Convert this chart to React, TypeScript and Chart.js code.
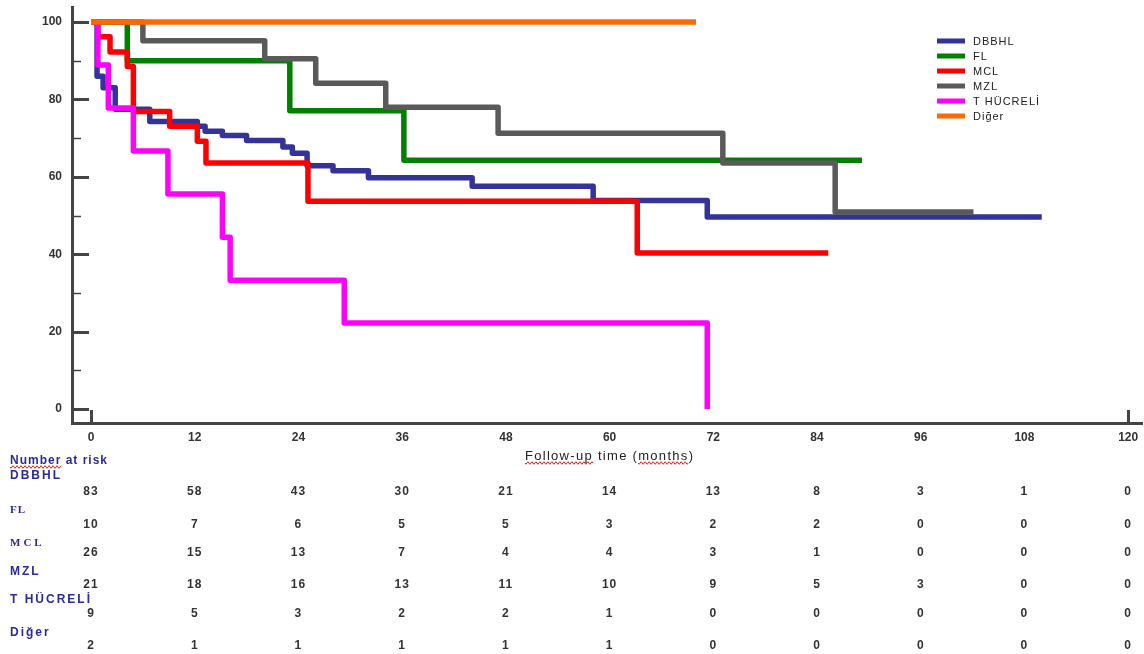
import React, { useEffect, useRef } from 'react';
import { Chart, registerables } from 'chart.js';

Chart.register(...registerables);

// ---------- data ----------
const seriesNames = ['DBBHL', 'FL', 'MCL', 'MZL', 'T HÜCRELİ', 'Diğer'];
const seriesColors = ['#333399', '#008000', '#ff0000', '#5a5a5a', '#ff00ff', '#ff6a00'];

const dbbhlTimes = [0, 0.7, 1.4, 2.8, 6.8, 12.3, 13.2, 15.2, 18.0, 22.2, 23.3, 25.0, 28.0, 32.1, 44.1, 58.1, 71.3, 110];
const dbbhlSurv = [100, 86.0, 83.0, 77.5, 74.3, 73.1, 71.8, 70.7, 69.4, 67.7, 66.1, 62.9, 61.6, 59.8, 57.6, 53.9, 49.6, 49.6];

const flTimes = [0, 4.2, 23.0, 36.2, 89.2];
const flSurv = [100, 90.0, 77.1, 64.3, 64.3];

const mclTimes = [0, 0.8, 2.2, 4.2, 4.9, 9.1, 12.3, 13.3, 25.1, 63.2, 85.3];
const mclSurv = [100, 96.2, 92.3, 88.5, 76.9, 73.1, 69.2, 63.6, 53.7, 40.3, 40.3];

const mzlTimes = [0, 6.0, 20.1, 26.0, 34.1, 47.1, 73.1, 86.1, 102.1];
const mzlSurv = [100, 95.2, 90.5, 84.2, 78.0, 71.3, 63.6, 50.9, 50.9];

const tTimes = [0, 0.8, 2.0, 4.9, 8.9, 15.2, 16.1, 29.3, 71.3];
const tSurv = [100, 88.9, 77.8, 66.7, 55.6, 44.4, 33.3, 22.2, 0];

const digerTimes = [0, 70];
const digerSurv = [100, 100];

const xTickValues = [0, 12, 24, 36, 48, 60, 72, 84, 96, 108, 120];
const yTickValues = [0, 20, 40, 60, 80, 100];

const riskTimes = [0, 12, 24, 36, 48, 60, 72, 84, 96, 108, 120];
const dbbhlRisk = [83, 58, 43, 30, 21, 14, 13, 8, 3, 1, 0];
const flRisk = [10, 7, 6, 5, 5, 3, 2, 2, 0, 0, 0];
const mclRisk = [26, 15, 13, 7, 4, 4, 3, 1, 0, 0, 0];
const mzlRisk = [21, 18, 16, 13, 11, 10, 9, 5, 3, 0, 0];
const tRisk = [9, 5, 3, 2, 2, 1, 0, 0, 0, 0, 0];
const digerRisk = [2, 1, 1, 1, 1, 1, 0, 0, 0, 0, 0];

const riskTitle = 'Number at risk';
const xAxisTitle = 'Follow-up time (months)';

const seriesTimes = [dbbhlTimes, flTimes, mclTimes, mzlTimes, tTimes, digerTimes];
const seriesSurv = [dbbhlSurv, flSurv, mclSurv, mzlSurv, tSurv, digerSurv];
const seriesRisk = [dbbhlRisk, flRisk, mclRisk, mzlRisk, tRisk, digerRisk];
// drawing order: lower = on top
const seriesOrder = [5, 4, 3, 2, 1, 0];

// ---------- helpers ----------
function squiggle(ctx: CanvasRenderingContext2D, x0: number, x1: number, y: number) {
  ctx.save();
  ctx.strokeStyle = '#e02020';
  ctx.lineWidth = 1;
  ctx.beginPath();
  for (let x = x0; x <= x1; x += 1) {
    const yy = y + Math.sin(((x - x0) * Math.PI) / 2) * 1.3;
    if (x === x0) ctx.moveTo(x, yy);
    else ctx.lineTo(x, yy);
  }
  ctx.stroke();
  ctx.restore();
}

const overlayPlugin = {
  id: 'kmOverlay',
  afterDraw(chart: any) {
    const ctx: CanvasRenderingContext2D = chart.ctx;
    const xs = chart.scales.x;
    const ys = chart.scales.y;
    const area = chart.chartArea;

    ctx.save();
    // inward y ticks
    ctx.strokeStyle = '#444';
    for (let v = 0; v <= 100; v += 10) {
      const y = Math.round(ys.getPixelForValue(v)) + 0.5;
      const major = v % 20 === 0;
      ctx.lineWidth = major ? 3 : 1.5;
      ctx.beginPath();
      ctx.moveTo(area.left, y);
      ctx.lineTo(area.left + (major ? 17 : 9), y);
      ctx.stroke();
    }
    // inward x ticks at ends
    ctx.lineWidth = 3;
    [0, 120].forEach((v) => {
      const x = Math.round(xs.getPixelForValue(v)) + 0.5;
      ctx.beginPath();
      ctx.moveTo(x, area.bottom);
      ctx.lineTo(x, area.bottom - 13);
      ctx.stroke();
    });

    // legend
    const legX = 937;
    const legY0 = 41;
    const legStep = 15;
    ctx.textBaseline = 'middle';
    ctx.textAlign = 'left';
    (ctx as any).letterSpacing = '1px';
    ctx.font = '11px Arial, "Liberation Sans", sans-serif';
    seriesNames.forEach((name, i) => {
      const y = legY0 + i * legStep;
      ctx.fillStyle = seriesColors[i];
      ctx.fillRect(legX, y - 2.5, 28, 5);
      ctx.fillStyle = '#222';
      ctx.fillText(name, legX + 36, y + 0.5);
    });

    // x axis title
    const titleX = xs.getPixelForValue(60);
    const titleY = 456;
    ctx.font = '13px Arial, "Liberation Sans", sans-serif';
    (ctx as any).letterSpacing = '1.3px';
    ctx.fillStyle = '#222';
    ctx.textAlign = 'center';
    ctx.fillText(xAxisTitle, titleX, titleY);
    const fullW = ctx.measureText(xAxisTitle).width;
    const startX = titleX - fullW / 2;
    const w1 = ctx.measureText('Follow-up').width;
    const wPre = ctx.measureText('Follow-up time (').width;
    const wMonths = ctx.measureText('months').width;
    squiggle(ctx, startX, startX + w1, titleY + 7);
    squiggle(ctx, startX + wPre, startX + wPre + wMonths, titleY + 7);

    // number at risk table
    const labelColor = '#2a2a9c';
    ctx.textAlign = 'left';
    ctx.fillStyle = labelColor;
    ctx.font = 'bold 12px Arial, "Liberation Sans", sans-serif';
    (ctx as any).letterSpacing = '1px';
    ctx.fillText(riskTitle, 10, 461);
    const wNumber = ctx.measureText('Number').width;
    squiggle(ctx, 10, 10 + wNumber, 467);

    const labelY = [476, 510, 543, 572, 600, 633];
    const numY = [492, 525, 553, 585, 614, 646];
    seriesNames.forEach((name, i) => {
      ctx.fillStyle = labelColor;
      ctx.textAlign = 'left';
      if (name === 'FL' || name === 'MCL') {
        ctx.font = 'bold 11px "Liberation Serif", "DejaVu Serif", serif';
        (ctx as any).letterSpacing = name === 'MCL' ? '3px' : '1px';
      } else {
        ctx.font = 'bold 12px Arial, "Liberation Sans", sans-serif';
        (ctx as any).letterSpacing = '2px';
      }
      ctx.fillText(name, 10, labelY[i]);
      ctx.fillStyle = '#333';
      ctx.textAlign = 'center';
      ctx.font = 'bold 12px Arial, "Liberation Sans", sans-serif';
      (ctx as any).letterSpacing = '1px';
      seriesRisk[i].forEach((n, j) => {
        ctx.fillText(String(n), xs.getPixelForValue(riskTimes[j]), numY[i]);
      });
    });
    (ctx as any).letterSpacing = '0px';
    ctx.restore();
  },
};

export default function App() {
  const ref = useRef<HTMLCanvasElement>(null);

  useEffect(() => {
    if (!ref.current) return;
    const datasets = seriesNames.map((name, i) => ({
      label: name,
      data: seriesTimes[i].map((t, k) => ({ x: t, y: seriesSurv[i][k] })),
      borderColor: seriesColors[i],
      backgroundColor: seriesColors[i],
      borderWidth: 5.5,
      pointRadius: 0,
      stepped: true as const,
      fill: false,
      order: seriesOrder[i],
      borderJoinStyle: 'round' as const,
      borderCapStyle: 'butt' as const,
    }));

    const chart = new Chart(ref.current, {
      type: 'line',
      data: { datasets },
      options: {
        animation: false,
        responsive: false,
        devicePixelRatio: 1,
        layout: { padding: { left: 0, top: 7, right: 2, bottom: 201 } },
        plugins: {
          legend: { display: false },
          tooltip: { enabled: false },
        },
        events: [],
        scales: {
          x: {
            type: 'linear',
            min: -2.2,
            max: 121.6,
            afterBuildTicks: (scale: any) => {
              scale.ticks = xTickValues.map((v) => ({ value: v }));
            },
            afterFit: (scale: any) => {
              scale.height = 30;
              scale.paddingLeft = 0;
              scale.paddingRight = 0;
            },
            grid: { display: false, drawTicks: false },
            border: { display: true, color: '#444', width: 3 },
            ticks: {
              padding: 7,
              color: '#333',
              font: { family: 'Arial, "Liberation Sans", sans-serif', size: 12, weight: 'bold' },
              maxRotation: 0,
              autoSkip: false,
            },
          },
          y: {
            type: 'linear',
            min: -3.62,
            max: 103.9,
            afterBuildTicks: (scale: any) => {
              scale.ticks = yTickValues.map((v) => ({ value: v }));
            },
            afterFit: (scale: any) => {
              scale.width = 72;
              scale.paddingTop = 0;
              scale.paddingBottom = 0;
            },
            grid: { display: false, drawTicks: false },
            border: { display: true, color: '#444', width: 3 },
            ticks: {
              padding: 10,
              color: '#333',
              font: { family: 'Arial, "Liberation Sans", sans-serif', size: 12, weight: 'bold' },
            },
          },
        },
      } as any,
      plugins: [overlayPlugin],
    });
    return () => chart.destroy();
  }, []);

  return (
    <div style={{ position: 'fixed', left: 0, top: 0, width: 1144, height: 654, background: '#fff' }}>
      <canvas ref={ref} width={1144} height={654} style={{ display: 'block', width: 1144, height: 654 }} />
    </div>
  );
}
